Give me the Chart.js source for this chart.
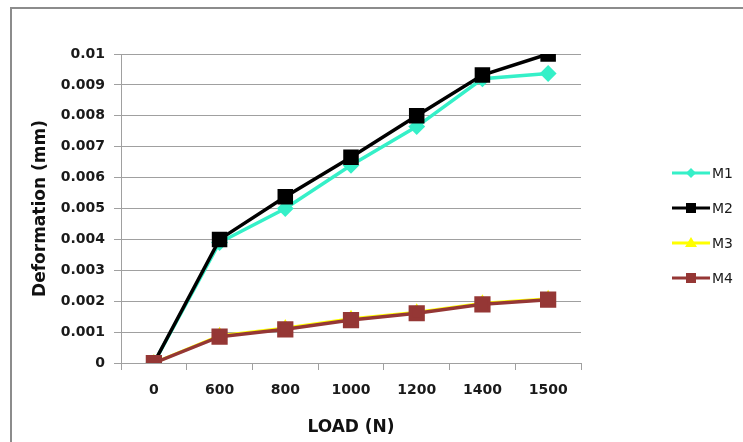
<!DOCTYPE html>
<html>
<head>
<meta charset="utf-8">
<script src="https://cdn.jsdelivr.net/npm/chart.js@4/dist/chart.umd.min.js"></script>
<style>
  html, body { margin: 0; padding: 0; background: #fff; }
  #wrap { position: relative; width: 743px; height: 442px; overflow: hidden; }
  #frame { position: absolute; left: 10px; top: 7px; width: 800px; height: 500px;
           border-left: 2px solid #8c8c8c; border-top: 2px solid #8c8c8c; }
  canvas { position: absolute; left: 0; top: 0; }
</style>
</head>
<body>
<div id="wrap">
  <div id="frame"></div>
  <canvas id="chart" width="743" height="442"></canvas>
</div>
<script>
const loads = ['0', '600', '800', '1000', '1200', '1400', '1500'];
const m1 = [0, 0.0039, 0.0050, 0.0064, 0.00765, 0.0092, 0.00937];
const m2 = [0, 0.0040, 0.00538, 0.00666, 0.0080, 0.00932, 0.0100];
const m3 = [0, 0.00088, 0.00113, 0.00143, 0.00164, 0.00193, 0.00208];
const m4 = [0, 0.00085, 0.00109, 0.00139, 0.00161, 0.0019, 0.00205];

const gridColor = '#a0a0a0';
const tickFont = { family: 'DejaVu Sans', size: 14, weight: 'bold' };

// legend drawn by hand: line with the marker in the middle, like Excel
const sideLegend = {
  id: 'sideLegend',
  afterDraw(chart) {
    const ctx = chart.ctx;
    chart.data.datasets.forEach((ds, i) => {
      const y = 173 + i * 35;
      const x0 = 672, x1 = 710, xm = 691;
      ctx.save();
      ctx.strokeStyle = ds.borderColor;
      ctx.lineWidth = 3;
      ctx.beginPath();
      ctx.moveTo(x0, y);
      ctx.lineTo(x1, y);
      ctx.stroke();
      ctx.fillStyle = ds.pointBackgroundColor;
      ctx.beginPath();
      if (ds.pointStyle === 'rectRot') {
        ctx.moveTo(xm, y - 5); ctx.lineTo(xm + 5, y); ctx.lineTo(xm, y + 5); ctx.lineTo(xm - 5, y);
      } else if (ds.pointStyle === 'triangle') {
        ctx.moveTo(xm, y - 6); ctx.lineTo(xm + 6, y + 4); ctx.lineTo(xm - 6, y + 4);
      } else {
        ctx.rect(xm - 5, y - 5, 10, 10);
      }
      ctx.closePath();
      ctx.fill();
      ctx.fillStyle = '#1a1a1a';
      ctx.font = '14px "DejaVu Sans"';
      ctx.textBaseline = 'middle';
      ctx.textAlign = 'left';
      ctx.fillText(ds.label, x1 + 2, y + 1);
      ctx.restore();
    });
  }
};

new Chart(document.getElementById('chart'), {
  type: 'line',
  data: {
    labels: loads,
    datasets: [
      { label: 'M1', data: m1, borderColor: '#35f0c8', backgroundColor: '#35f0c8',
        pointBackgroundColor: '#35f0c8', pointBorderColor: '#35f0c8',
        pointStyle: 'rectRot', pointRadius: 6, borderWidth: 3.5, order: 4 },
      { label: 'M2', data: m2, borderColor: '#000000', backgroundColor: '#000000',
        pointBackgroundColor: '#000000', pointBorderColor: '#000000',
        pointStyle: 'rect', pointRadius: 8.5, borderWidth: 3.5, order: 3 },
      { label: 'M3', data: m3, borderColor: '#ffff00', backgroundColor: '#ffff00',
        pointBackgroundColor: '#ffff00', pointBorderColor: '#ffff00',
        pointStyle: 'triangle', pointRadius: 6, borderWidth: 3, order: 2 },
      { label: 'M4', data: m4, borderColor: '#953735', backgroundColor: '#953735',
        pointBackgroundColor: '#953735', pointBorderColor: '#953735',
        pointStyle: 'rect', pointRadius: 9, borderWidth: 3.5, order: 1 }
    ]
  },
  options: {
    responsive: false,
    animation: false,
    layout: { padding: { left: 10, top: 54, right: 162, bottom: 4 } },
    plugins: { legend: { display: false }, tooltip: { enabled: false } },
    scales: {
      x: {
        offset: true,
        afterFit: s => { s.height = 75; },
        grid: { offset: true, drawOnChartArea: false, drawTicks: true, tickLength: 7, color: gridColor },
        border: { display: false },
        ticks: { font: tickFont, color: '#1a1a1a', padding: 12, maxRotation: 0 },
        title: { display: true, text: 'LOAD (N)', color: '#111',
                 font: { family: 'DejaVu Sans', size: 17, weight: 'bold' }, padding: { top: 6, bottom: 0 } }
      },
      y: {
        min: 0, max: 0.01,
        afterFit: s => { s.width = 111; },
        grid: { color: gridColor, tickLength: 7 },
        border: { display: true, color: gridColor },
        ticks: { stepSize: 0.001, font: tickFont, color: '#1a1a1a', padding: 9,
                 callback: v => String(Number(v.toFixed(3))) },
        title: { display: true, text: 'Deformation (mm)', color: '#111',
                 font: { family: 'DejaVu Sans', size: 17, weight: 'bold' }, padding: { top: 20, bottom: 0 } }
      }
    }
  },
  plugins: [sideLegend]
});
</script>
</body>
</html>
